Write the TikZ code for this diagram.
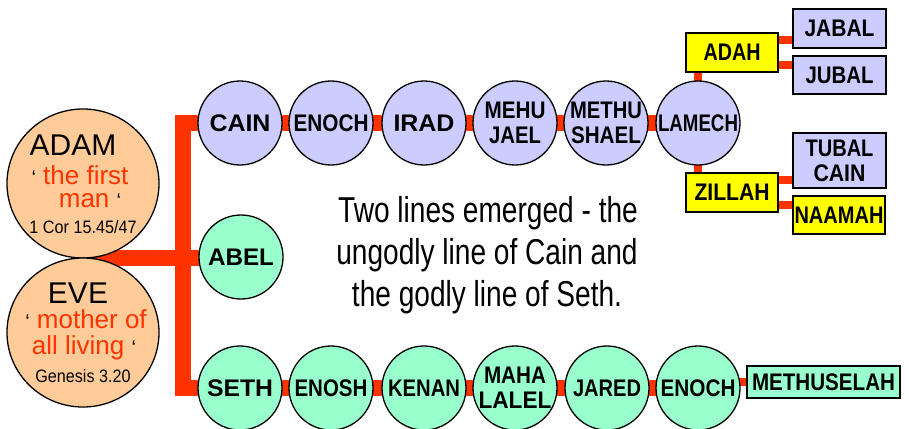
\documentclass[tikz,border=0pt]{standalone}
\usepackage{fontspec}
\setmainfont{Liberation Sans}
\newfontfamily\mainfont[FakeStretch=0.78]{Liberation Sans}
\newfontfamily\smallfont[FakeStretch=0.9]{Liberation Sans}
\usetikzlibrary{backgrounds,calc,shapes.geometric}
\newcommand\nm[2]{\resizebox{#1pt}{\height}{#2}}
\newcommand\qm{\textcolor{black}{\fontsize{20}{20}\selectfont‘}}
\definecolor{lav}{HTML}{CCCCFF}
\definecolor{mint}{HTML}{99FFCC}
\definecolor{peach}{HTML}{FFCC99}
\definecolor{redl}{HTML}{FF3300}
\definecolor{yel}{HTML}{FFFF00}
\tikzset{
  x=1pt,y=-1pt,
  person/.style={circle,draw=black,line width=1.3pt,minimum size=84pt,inner sep=0pt,
    font=\bfseries\fontsize{24}{25}\selectfont,align=center},
  cainp/.style={person,fill=lav},
  sethp/.style={person,fill=mint},
  namebox/.style={rectangle,draw=black,line width=1.3pt,minimum width=92pt,minimum height=39pt,
    inner sep=0pt,font=\bfseries\fontsize{24}{25}\selectfont,align=center},
  parent/.style={ellipse,draw=black,line width=1.3pt,fill=peach,minimum width=152pt,minimum height=149pt,inner sep=0pt},
  ptitle/.style={font=\fontsize{30}{30}\selectfont,anchor=base,inner sep=0pt},
  pquote/.style={font=\fontsize{26}{23}\selectfont,text=redl,inner sep=0pt,align=center},
  pref/.style={font=\smallfont\fontsize{18}{18}\selectfont,anchor=base,inner sep=0pt},
  maintext/.style={font=\mainfont\fontsize{36}{43}\selectfont,anchor=base,inner sep=0pt},
  trunk/.style={draw=redl,line width=16pt,line join=miter},
  branch/.style={draw=redl,line width=8pt},
}
\begin{document}
\begin{tikzpicture}
\useasboundingbox (0,0) rectangle (909,428);
% parents
\node[parent] (adam) at (83,183.5) {};
\node[parent] (eve) at (83,332.5) {};
\coordinate (join) at (83,258);
\node[ptitle] (adamt) at (73,155) {ADAM};
\node[pquote,anchor=north] (adamq) at (80,165.5) {\qm{} the first\\\hspace*{20pt}man \qm};
\node[pref] (adam3) at (83,233) {1 Cor 15.45/47};
\node[ptitle] (evet) at (78,303) {EVE};
\node[pquote,font=\fontsize{26}{26}\selectfont,anchor=north] (eveq) at (84,309.5) {\hspace*{4pt}\qm{} mother of\\all living \qm};
\node[pref] (eve3) at (83,382) {Genesis 3.20};
% line of Cain
\node[cainp] (cain) at (240,123) {\nm{61}{CAIN}};
\node[cainp] (enoch) at (331,123) {\nm{75}{ENOCH}};
\node[cainp] (irad) at (424,123) {\nm{61}{IRAD}};
\node[cainp] (mehu) at (515,123) {\nm{61}{MEHU}\\\nm{52}{JAEL}};
\node[cainp] (methu) at (606,123) {\nm{72}{METHU}\\\nm{70}{SHAEL}};
\node[cainp] (lamech) at (698,123) {\nm{80}{LAMECH}};
\node[namebox,fill=yel] (adah) at (732,52.5) {\nm{57}{ADAH}};
\node[namebox,fill=yel] (zillah) at (732,192.5) {\nm{75}{ZILLAH}};
\node[namebox,fill=lav,minimum width=93pt] (jabal) at (839.5,28.5) {\nm{70}{JABAL}};
\node[namebox,fill=lav,minimum width=93pt,minimum height=38pt] (jubal) at (839.5,75) {\nm{68}{JUBAL}};
\node[namebox,fill=lav,minimum width=93pt,minimum height=55pt] (tubal) at (839.5,160.5) {\nm{68}{TUBAL}\\\nm{52}{CAIN}};
\node[namebox,fill=yel,minimum width=92pt,minimum height=38pt] (naamah) at (839,215) {\nm{89}{NAAMAH}};
% Abel
\node[sethp] (abel) at (241,257) {\nm{66}{ABEL}};
% line of Seth
\node[sethp] (seth) at (240,388) {\nm{66}{SETH}};
\node[sethp] (enosh) at (331,388) {\nm{73}{ENOSH}};
\node[sethp] (kenan) at (424,388) {\nm{72}{KENAN}};
\node[sethp] (maha) at (515,388) {\nm{62}{MAHA}\\\nm{73}{LALEL}};
\node[sethp] (jared) at (607,388) {\nm{68}{JARED}};
\node[sethp] (enoch2) at (698,388) {\nm{75}{ENOCH}};
\node[namebox,fill=mint,minimum width=153pt,minimum height=32pt] (meth) at (823.5,382) {\nm{143}{METHUSELAH}};
% text
\node[maintext] (txt1) at (488,222) {Two lines emerged - the};
\node[maintext] (txt2) at (487,264) {ungodly line of Cain and};
\node[maintext] (txt3) at (487,306) {the godly line of Seth.};
\coordinate (trunkx) at (183,0);
\begin{scope}[on background layer]
\draw[trunk] (cain.center) -- (cain.center -| trunkx) |- (seth.center);
\draw[trunk] (join) -- (abel.center |- join);
\draw[trunk] (cain.center) -- (lamech.center);
\draw[trunk] (seth.center) -- (enoch2.center);
\draw[branch] (adah.center -| lamech.center) -- (zillah.center -| lamech.center);
\draw[branch] ($(adah.north east)!.18!(adah.south east)$) coordinate (a1) -- (a1 -| jabal.west);
\draw[branch] ($(adah.north east)!.82!(adah.south east)$) coordinate (a2) -- (a2 -| jubal.west);
\draw[branch] ($(zillah.north east)!.18!(zillah.south east)$) coordinate (z1) -- (z1 -| tubal.west);
\draw[branch] ($(zillah.north east)!.8!(zillah.south east)$) coordinate (z2) -- (z2 -| naamah.west);
\draw[branch] (meth.west -| enoch2.center) -- (meth.west);
\end{scope}
\end{tikzpicture}
\end{document}
